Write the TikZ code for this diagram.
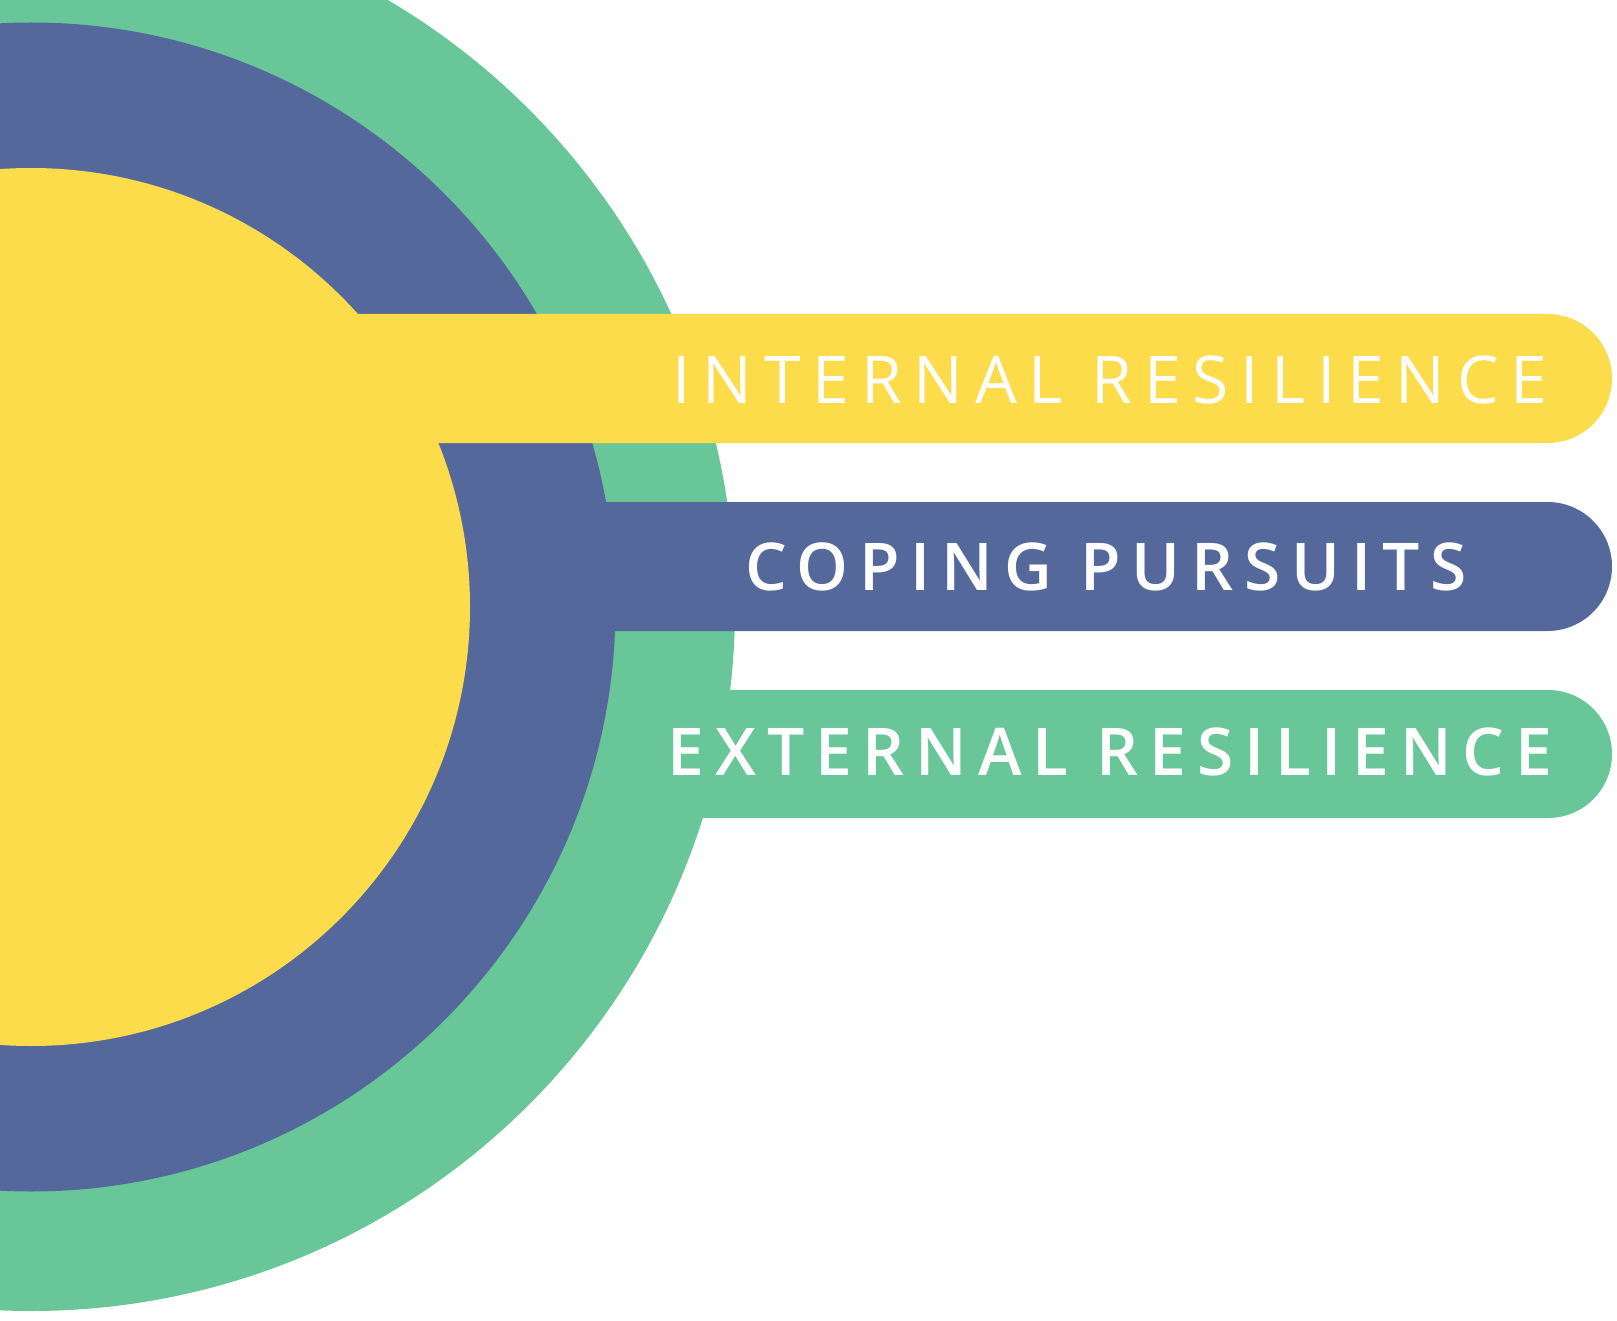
\documentclass[tikz,border=0pt]{standalone}
\usepackage{fontspec}
\setmainfont{Open Sans}
\newfontfamily\labelfont[LetterSpace=18]{Open Sans}
\newfontfamily\heavyfont[LetterSpace=16.5]{Open Sans Semibold}

\begin{document}
\begin{tikzpicture}
		[x=0.02cm,y=-0.02cm,
		%Styles
		bar text/.style={text=white,inner sep=0pt,font=\labelfont\fontsize{37.5}{40}\selectfont},
		light text/.style={bar text},
		heavy text/.style={bar text,font=\heavyfont\fontsize{37.5}{40}\selectfont}
		]
		
		%Colors
		\definecolor{outercolor}{HTML}{68C699}	%external resilience
		\definecolor{middlecolor}{HTML}{55689B}	%coping pursuits
		\definecolor{innercolor}{HTML}{FDDC4B}	%internal resilience
		
		\useasboundingbox (0,0) rectangle (1617,1321);
		\clip (0,0) rectangle (1617,1321);
		
		%The graphic: each ring with its bar, outermost first
		\foreach \col/\r/\top/\bot in {outercolor/704/690/818, middlecolor/584.5/502/631, innercolor/439/314/443}
		{
			\fill[\col] (31,607) circle[radius=\r];
			\fill[\col] (31,\top) -- (1612-0.5*\bot+0.5*\top,\top)
				arc[start angle=-90,end angle=90,radius={0.5*(\bot-\top)}] -- (31,\bot) -- cycle;
		}
		
		%Labels
		\node[light text] (internal) at (1110,380) {INTERNAL RESILIENCE};
		\node[heavy text] (coping) at (1106,567) {COPING PURSUITS};
		\node[heavy text] (external) at (1110,752) {EXTERNAL RESILIENCE};
	\end{tikzpicture}
\end{document}
